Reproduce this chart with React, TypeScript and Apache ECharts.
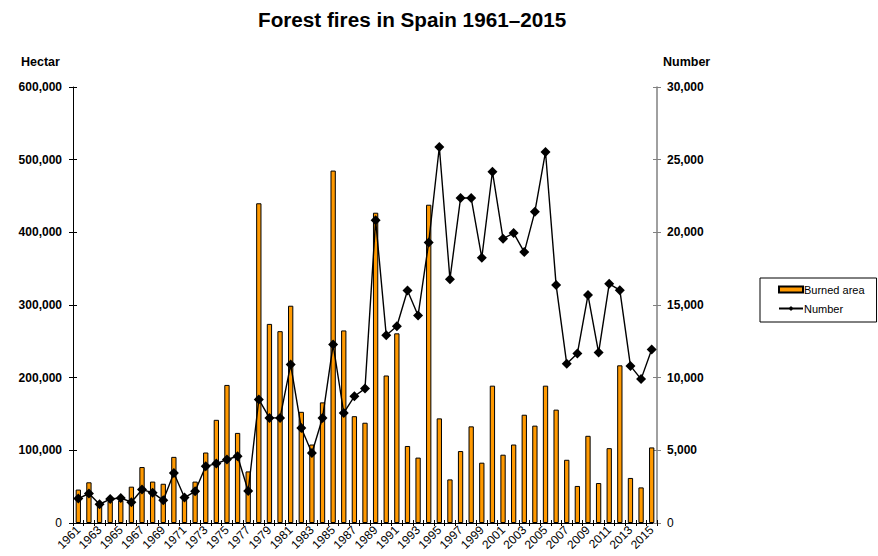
import React, { useEffect, useRef } from "react";
import * as echarts from "echarts";

const years = [
  "1961","1962","1963","1964","1965","1966","1967","1968","1969","1970",
  "1971","1972","1973","1974","1975","1976","1977","1978","1979","1980",
  "1981","1982","1983","1984","1985","1986","1987","1988","1989","1990",
  "1991","1992","1993","1994","1995","1996","1997","1998","1999","2000",
  "2001","2002","2003","2004","2005","2006","2007","2008","2009","2010",
  "2011","2012","2013","2014","2015",
];

const burnedArea = [
  46000, 56000, 25000, 30000, 31000, 50000, 77000, 57000, 54000, 91000,
  36000, 57000, 97000, 142000, 190000, 124000, 71000, 440000, 274000, 264000,
  299000, 153000, 108000, 166000, 485000, 265000, 147000, 138000, 427000, 203000,
  261000, 106000, 90000, 438000, 144000, 60000, 99000, 133000, 83000, 189000,
  94000, 108000, 149000, 134000, 189000, 156000, 87000, 51000, 120000, 55000,
  103000, 217000, 62000, 49000, 104000,
];

const fireCount = [
  1680, 2030, 1290, 1650, 1720, 1430, 2300, 2090, 1560, 3440,
  1750, 2180, 3900, 4090, 4370, 4590, 2200, 8500, 7230, 7230,
  10900, 6540, 4820, 7230, 12280, 7570, 8720, 9250, 20840, 12920,
  13540, 16000, 14280, 19300, 25870, 16780, 22360, 22360, 18250, 24170,
  19560, 19950, 18640, 21420, 25530, 16370, 10950, 11660, 15680, 11730,
  16460, 16020, 10810, 9900, 11940,
];

const leftTicks = { min: 0, max: 600000, interval: 100000 };
const rightTicks = { min: 0, max: 30000, interval: 5000 };

const FONT = "'Liberation Sans', Arial, sans-serif";

const fmt = (v: number) =>
  v === 0 ? "{n|0}" : v.toLocaleString("en-US");

export default function App() {
  const ref = useRef<HTMLDivElement>(null);

  useEffect(() => {
    if (!ref.current) return;
    const chart = echarts.init(ref.current, null, { renderer: "svg" });
    const labelRich = { n: { fontWeight: "normal", fontSize: 12, color: "#000", fontFamily: FONT } };
    chart.setOption({
      animation: false,
      textStyle: { fontFamily: FONT },
      title: {
        text: "Forest fires in Spain 1961\u20132015",
        left: 258,
        top: 9,
        padding: 0,
        textStyle: { fontSize: 20.7, fontWeight: "bold", color: "#000", fontFamily: FONT },
      },
      graphic: [
        {
          type: "text",
          left: 21,
          top: 55,
          style: { text: "Hectar", fontSize: 12.5, fontWeight: "bold", fill: "#000", fontFamily: FONT },
        },
        {
          type: "text",
          left: 663,
          top: 55,
          style: { text: "Number", fontSize: 12.5, fontWeight: "bold", fill: "#000", fontFamily: FONT },
        },
      ],
      legend: {
        orient: "vertical",
        left: 760,
        top: 278,
        padding: [6, 12, 8, 18],
        itemGap: 8,
        itemWidth: 24,
        itemHeight: 6,
        borderColor: "#000",
        borderWidth: 1,
        borderRadius: 0,
        textStyle: { fontSize: 11, color: "#000", fontFamily: FONT, padding: [0, 0, 0, -4] },
        data: [
          { name: "Burned area", icon: "rect" },
          { name: "Number" },
        ],
      },
      grid: { left: 73, right: 221, top: 87, bottom: 33 },
      xAxis: [
        {
          type: "category",
          data: years,
          boundaryGap: true,
          axisLine: { lineStyle: { color: "#000", width: 1 } },
          axisTick: { show: true, length: 3, alignWithLabel: false, interval: 0, lineStyle: { color: "#000" } },
          axisLabel: {
            interval: 1,
            rotate: 45,
            margin: 5,
            fontSize: 12,
            color: "#000",
            fontFamily: FONT,
          },
        },
        {
          type: "category",
          data: years,
          position: "bottom",
          boundaryGap: true,
          axisLine: { show: false },
          axisTick: { show: true, inside: true, length: 3, interval: 0, lineStyle: { color: "#000" } },
          axisLabel: { show: false },
        },
      ],
      yAxis: [
        {
          type: "value",
          position: "left",
          ...leftTicks,
          splitLine: { show: false },
          axisLine: { show: true, lineStyle: { color: "#000", width: 1 } },
          axisTick: { show: true, length: 4, lineStyle: { color: "#000" } },
          axisLabel: {
            formatter: fmt,
            rich: labelRich,
            margin: 11,
            fontSize: 12,
            fontWeight: "bold",
            color: "#000",
            fontFamily: FONT,
          },
        },
        {
          type: "value",
          position: "right",
          ...rightTicks,
          splitLine: { show: false },
          axisLine: { show: true, lineStyle: { color: "#808080", width: 1.5 } },
          axisTick: { show: true, length: 4, lineStyle: { color: "#808080" } },
          axisLabel: {
            formatter: fmt,
            rich: labelRich,
            margin: 10,
            fontSize: 12,
            fontWeight: "bold",
            color: "#000",
            fontFamily: FONT,
          },
        },
        {
          type: "value",
          position: "left",
          ...leftTicks,
          splitLine: { show: false },
          axisLine: { show: false },
          axisTick: { show: true, inside: true, length: 4, lineStyle: { color: "#000" } },
          axisLabel: { show: false },
        },
        {
          type: "value",
          position: "right",
          ...rightTicks,
          splitLine: { show: false },
          axisLine: { show: false },
          axisTick: { show: true, inside: true, length: 4, lineStyle: { color: "#808080" } },
          axisLabel: { show: false },
        },
      ],
      series: [
        {
          name: "Burned area",
          type: "bar",
          xAxisIndex: 0,
          yAxisIndex: 0,
          data: burnedArea,
          barWidth: "50%",
          itemStyle: { color: "#FF9900", borderColor: "#000", borderWidth: 1 },
        },
        {
          name: "Number",
          type: "line",
          xAxisIndex: 0,
          yAxisIndex: 1,
          data: fireCount,
          symbol: "diamond",
          symbolSize: 10,
          showAllSymbol: true,
          lineStyle: { color: "#000", width: 1.4 },
          itemStyle: { color: "#000" },
          z: 5,
        },
      ],
    });
    return () => chart.dispose();
  }, []);

  return (
    <div
      ref={ref}
      style={{ position: "absolute", left: 0, top: 0, width: 878, height: 556 }}
    />
  );
}
